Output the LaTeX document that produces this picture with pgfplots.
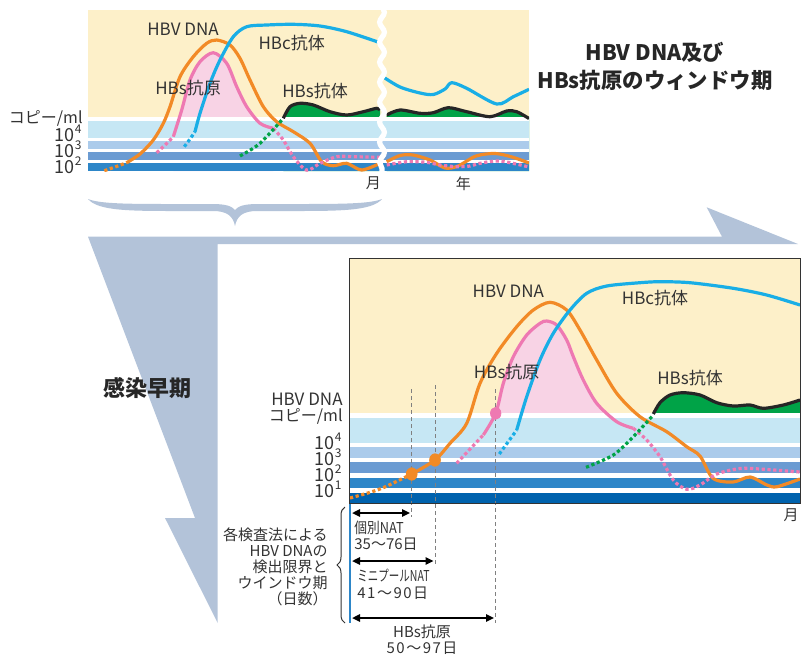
\documentclass[border=0pt]{standalone}
\usepackage{fontspec}
\setmainfont{Noto Sans CJK JP}
\usepackage{graphicx}
\usepackage{pgfplots}
\pgfplotsset{compat=1.18}
\usetikzlibrary{arrows.meta,decorations.pathmorphing,decorations.pathreplacing}

\definecolor{cream}{HTML}{FDF0C9}
\definecolor{bandA}{HTML}{C6E7F4}
\definecolor{bandB}{HTML}{ABCBEB}
\definecolor{bandC}{HTML}{6B9BD2}
\definecolor{bandD}{HTML}{2D86C8}
\definecolor{bandE}{HTML}{0062AD}
\definecolor{dnaorange}{HTML}{F28A26}
\definecolor{hbspink}{HTML}{EE79B2}
\definecolor{pinkfill}{HTML}{F8D3E5}
\definecolor{hbcblue}{HTML}{19AEE6}
\definecolor{abgreen}{HTML}{00A347}
\definecolor{arrowgray}{HTML}{B3C3D9}
\definecolor{txt}{HTML}{333333}

\newcommand\lab{\fontsize{8.5}{10}\selectfont}
\newcommand\sm{\fontsize{7.5}{9}\selectfont}
\newcommand\pw[2]{\node[font=\fontsize{9}{9}\selectfont, text=txt, anchor=east, inner sep=0,
  text height=7pt, text depth=0pt] at (#1) {10\textsuperscript{#2}};}

\pgfplotsset{
  crv/.style={line width=1.6pt, smooth, mark=none, line join=round},
  dtt/.style={crv, dash pattern=on 1.6pt off 1.3pt},
  band/.style={draw=none, fill=#1, mark=none},
  schem/.style={scale only axis, enlargelimits=false, major tick length=0pt, ytick=\empty,
    tick label style={text=txt}, xticklabel style={font=\sm, inner sep=0pt, yshift=-2.5pt}},
}

\begin{document}
\begin{tikzpicture}
% background shapes, pixel units
\begin{scope}[x=0.5pt,y=-0.5pt]
\useasboundingbox (0,0) rectangle (806,655);
\fill[arrowgray] (88,236.7) -- (722,236.7) -- (706.7,207.3) -- (798,244) -- (217.7,244)
  -- (217.7,623) -- (165,518) -- (195,518) -- cycle;
\fill[arrowgray] (88,199) .. controls (98,211) and (130,211) .. (180,211) -- (213,211)
  .. controls (227,211) and (233,216) .. (235,226) .. controls (237,216) and (243,211) .. (257,211)
  -- (290,211) .. controls (340,211) and (372,211) .. (382,199)
  .. controls (370,204) and (340,204) .. (290,204) -- (257,204)
  .. controls (245,204) and (238,206) .. (235,210) .. controls (232,206) and (225,204) .. (213,204)
  -- (180,204) .. controls (130,204) and (100,204) .. (88,199) -- cycle;
\end{scope}

% ---------- top chart ----------
\begin{axis}[schem, at={(44pt,-85.5pt)}, anchor=south west,
  width=220.5pt, height=80.5pt, xmin=0, xmax=441, ymin=0, ymax=161,
  axis line style={draw=none},
  xtick={285.3,375.3}, xticklabels={\mbox{月},\mbox{年}}]
\addplot[band=cream] coordinates {(0,54.3)(441,54.3)(441,161)(0,161)} -- cycle;
\addplot[band=pinkfill, smooth] coordinates {(85.3,34.3)(93.7,61)(102,91)(112,109.3)(125.3,118.3)(138.7,107.7)(148.7,84.3)(158.7,64.3)(172,47.7)(185.3,42.7)} \closedcycle;
\addplot[band=abgreen, smooth] coordinates {(195.3,52.7)(202,64.3)(212,67.7)(225.3,66)(242,59.3)(258.7,56)(275.3,59.3)(288.7,62.7)(292,61)} \closedcycle;
\addplot[band=abgreen, smooth] coordinates {(298.7,56)(312,61)(332,57.7)(345.3,58.3)(360.3,63.3)(378.7,59.3)(402,54.3)(418.7,60)(428.7,59.3)(441,52.5)} \closedcycle;
\addplot[band=white] coordinates {(0,0)(441,0)(441,54.3)(0,54.3)} -- cycle;
\addplot[band=bandA] coordinates {(0,32.7)(441,32.7)(441,50.3)(0,50.3)} -- cycle;
\addplot[band=bandB] coordinates {(0,22)(441,22)(441,30)(0,30)} -- cycle;
\addplot[band=bandC] coordinates {(0,11)(441,11)(441,19.3)(0,19.3)} -- cycle;
\addplot[band=bandD] coordinates {(0,0)(441,0)(441,8.3)(0,8.3)} -- cycle;
% HBV DNA
\addplot[dtt, dnaorange] coordinates {(16.3,0.3)(27,4)(38.7,8.3)};
\addplot[crv, dnaorange] coordinates {(38.7,8.3)(52,17)(65.3,31)(75.3,47.7)(82,64.3)(92,94.3)(105.3,114.3)(118.7,127.7)(128.7,131)(142,126)(152,112.7)(162,91)(175.3,64.3)(188.7,49.3)(205.3,39.3)(222,27.7)(233.7,9.3)(245.3,5.3)(258.7,7.7)(273.7,1)(292,7.7)};
\addplot[crv, dnaorange] coordinates {(298.7,9.3)(312,15.5)(325,16)(342,11)(357,3)(370,5)(388,15)(407,17.5)(424,14)(441,8)};
% HBs antigen
\addplot[dtt, hbspink] coordinates {(68.7,18.3)(77,26)(85.3,34.3)};
\addplot[crv, hbspink] coordinates {(85.3,34.3)(93.7,61)(102,91)(112,109.3)(125.3,118.3)(138.7,107.7)(148.7,84.3)(158.7,64.3)(172,47.7)(185.3,42.7)};
\addplot[dtt, hbspink] coordinates {(185.3,42.7)(195.3,31)(205.3,14.3)(218.7,0.8)(232,7.7)(248.7,14.3)(265.3,14.3)(292,13.7)};
\addplot[dtt, hbspink] coordinates {(298.7,6)(318.7,9.3)(338.7,8.7)(352,6)(368.7,4.3)(382,5)(392,7.7)(412,10)(441,4)};
% HBc antibody
\addplot[dtt, hbcblue] coordinates {(96.3,24.3)(102,32)(107,39.3)};
\addplot[crv, hbcblue] coordinates {(107,39.3)(112,57.7)(122,87.7)(132,111)(145.3,134.3)(158.7,144.3)(178.7,146)(205.3,146.7)(232,145)(258.7,139.3)(292,128.3)};
\addplot[crv, hbcblue] coordinates {(295.3,94)(312,84)(332,78)(345.3,76.5)(357,82)(363.7,88.3)(378.7,82.7)(408.7,67)(425.3,74.3)(441,81.7)};
% HBs antibody
\addplot[dtt, abgreen] coordinates {(152,15)(172,27.7)(195.3,52.7)};
\addplot[crv, black!85] coordinates {(195.3,52.7)(202,64.3)(212,67.7)(225.3,66)(242,59.3)(258.7,56)(275.3,59.3)(288.7,62.7)(292,61)};
\addplot[crv, black!85] coordinates {(298.7,56)(312,61)(332,57.7)(345.3,58.3)(360.3,63.3)(378.7,59.3)(402,54.3)(418.7,60)(428.7,59.3)(441,52.5)};
\end{axis}

% ---------- bottom chart ----------
\begin{axis}[schem, at={(174.5pt,-251.5pt)}, anchor=south west,
  width=225.5pt, height=122.5pt, xmin=0, xmax=451, ymin=0, ymax=245,
  clip=false, axis on top, axis line style={draw=txt, line width=0.5pt},
  xtick={442}, xticklabels={\mbox{月}}]
\addplot[band=cream] coordinates {(0,90.3)(451,90.3)(451,245)(0,245)} -- cycle;
\addplot[band=pinkfill, smooth] coordinates {(134.3,68)(146.7,89.7)(154.3,119.7)(164.3,146.3)(177.7,168)(191,179.7)(197.7,182)(207.7,178)(217.7,163)(224.3,146.3)(234.3,123)(247.7,99.7)(267.7,81.3)(284.3,74.7)} \closedcycle;
\addplot[band=abgreen, smooth] coordinates {(304.3,89)(311,100.3)(321,108)(334.3,110.3)(351,108)(367.7,100.3)(384.3,97)(401,98)(414.3,94.7)(434.3,98)(451,103)} \closedcycle;
\addplot[band=white] coordinates {(0,0)(451,0)(451,90.3)(0,90.3)} -- cycle;
\addplot[band=bandA] coordinates {(0,60.3)(451,60.3)(451,85.3)(0,85.3)} -- cycle;
\addplot[band=bandB] coordinates {(0,45)(451,45)(451,56.3)(0,56.3)} -- cycle;
\addplot[band=bandC] coordinates {(0,30.3)(451,30.3)(451,41)(0,41)} -- cycle;
\addplot[band=bandD] coordinates {(0,14.7)(451,14.7)(451,25.3)(0,25.3)} -- cycle;
\addplot[band=bandE] coordinates {(0,0)(451,0)(451,10.3)(0,10.3)} -- cycle;
% detection limits
\addplot[gray, line width=0.5pt, dash pattern=on 2pt off 1.5pt] coordinates {(62.7,114)(62.7,-14)};
\addplot[gray, line width=0.5pt, dash pattern=on 2pt off 1.5pt] coordinates {(86,118)(86,-64)};
\addplot[gray, line width=0.5pt, dash pattern=on 2pt off 1.5pt] coordinates {(146.7,114)(146.7,-120)};
% HBV DNA
\addplot[dtt, dnaorange] coordinates {(1,5)(31,14)(62.7,29)};
\addplot[crv, dnaorange] coordinates {(62.7,29)(86,43)(101,59.7)(117.7,79.7)(131,119.7)(147.7,149.7)(167.7,176.3)(184.3,193)(201,200.7)(217.7,193)(231,173)(247.7,143)(267.7,109.7)(291,86.3)(317.7,71.3)(337.7,56.3)(351,47)(364,24.7)(384,21)(401,26)(418,18)(428,16.3)(451,24)};
% HBs antigen
\addplot[dtt, hbspink] coordinates {(107.7,39.7)(121,54)(134.3,68)};
\addplot[crv, hbspink] coordinates {(134.3,68)(146.7,89.7)(154.3,119.7)(164.3,146.3)(177.7,168)(191,179.7)(197.7,182)(207.7,178)(217.7,163)(224.3,146.3)(234.3,123)(247.7,99.7)(267.7,81.3)(284.3,74.7)};
\addplot[dtt, hbspink] coordinates {(284.3,74.7)(297.7,63)(311,46.3)(324.3,23)(337.7,13.7)(351,18)(367.7,29)(391,34.5)(411,34)(451,31)};
% HBc antibody
\addplot[dtt, hbcblue] coordinates {(150.3,49)(159,61)(167.7,73)};
\addplot[crv, hbcblue] coordinates {(167.7,73)(177.7,106.3)(191,143)(204.3,169.7)(221,193)(237.7,209.7)(257.7,217)(291,220.3)(311,221.3)(341,220.3)(384.3,214.7)(417.7,208)(451,198)};
% HBs antibody
\addplot[dtt, abgreen] coordinates {(237,35.7)(264.3,48)(284.3,66.3)(304.3,88)};
\addplot[crv, black!85] coordinates {(304.3,89)(311,100.3)(321,108)(334.3,110.3)(351,108)(367.7,100.3)(384.3,97)(401,98)(414.3,94.7)(434.3,98)(451,103)};
% detection points
\addplot[dnaorange, only marks, mark=*, mark size=2.7pt, mark options={fill=dnaorange, draw=dnaorange, yscale=1.15}] coordinates {(62.7,29)(86,43)};
\addplot[hbspink, only marks, mark=*, mark size=2.6pt, mark options={fill=hbspink, draw=hbspink, yscale=1.15}] coordinates {(146.7,89.7)};
% window periods
\addplot[line width=1pt, arrows={Triangle[length=4pt,width=3.6pt]-Triangle[length=4pt,width=3.6pt]}] coordinates {(3,-10)(61,-10)};
\addplot[line width=1pt, arrows={Triangle[length=4pt,width=3.6pt]-Triangle[length=4pt,width=3.6pt]}] coordinates {(3,-58)(84.5,-58)};
\addplot[line width=1pt, arrows={Triangle[length=4pt,width=3.6pt]-Triangle[length=4pt,width=3.6pt]}] coordinates {(3,-115)(145,-115)};
\addplot[bandD, line width=1pt] coordinates {(1,0)(1,-120)};
\end{axis}

% ---------- texts and break ----------
\begin{scope}[x=0.5pt,y=-0.5pt]
\draw[white, line width=2.6pt, decorate, decoration={snake, segment length=10pt, amplitude=1.2pt}] (382,6) -- (382,175);
\node[font=\lab, text=txt] at (183,29.3) {HBV DNA};
\node[font=\lab, text=txt] at (291.7,43.3) {HBc抗体};
\node[font=\lab, text=txt] at (188,88.3) {HBs抗原};
\node[font=\lab, text=txt] at (315,90.7) {HBs抗体};
\node[font=\fontsize{8}{9}\selectfont, text=txt, anchor=east, inner sep=0] at (83,118) {コピー/ml};
\pw{83,134}{4} \pw{83,150}{3} \pw{83,166}{2}

\node[font=\bfseries\fontsize{10.7}{14}\selectfont, text=black!85, align=center] at (655,66) {HBV DNA及び\\HBs抗原のウィンドウ期};
\node[font=\bfseries\fontsize{11}{12}\selectfont, text=black!85] at (147,388) {感染早期};

\node[font=\lab, text=txt] at (508.3,291.7) {HBV DNA};
\node[font=\lab, text=txt] at (655,297.7) {HBc抗体};
\node[font=\lab, text=txt] at (506.7,371.7) {HBs抗原};
\node[font=\lab, text=txt] at (690,378.3) {HBs抗体};
\node[font=\lab, text=txt, anchor=east, inner sep=0] at (343,399) {HBV DNA};
\node[font=\fontsize{8}{9}\selectfont, text=txt, anchor=east, inner sep=0] at (343,416) {コピー/ml};
\pw{343,442}{4} \pw{343,458}{3} \pw{343,474}{2} \pw{343,490}{1}

\node[font=\fontsize{7.5}{8}\selectfont, text=txt, anchor=east, align=right, inner sep=0] at (328,567)
  {各検査法による\\HBV DNAの\\検出限界と\\ウインドウ期\\（日数）};
\draw[txt, line width=0.5pt, decorate, decoration={brace, amplitude=4pt}] (345,623) -- (345,507);

\node[font=\sm, text=txt, anchor=west, inner sep=0] at (354,528) {\scalebox{0.85}[1]{個別NAT}};
\node[font=\sm, text=txt, anchor=west, inner sep=0] at (354,544) {35～76日};
\node[font=\sm, text=txt, anchor=west, inner sep=0] at (357,576) {\scalebox{0.7}[1]{ミニプールNAT}};
\node[font=\sm, text=txt, anchor=west, inner sep=0] at (357,593) {\addfontfeature{LetterSpace=10}41～90日};
\node[font=\sm, text=txt, inner sep=0] at (422,632) {HBs抗原};
\node[font=\sm, text=txt, inner sep=0] at (422,648) {\addfontfeature{LetterSpace=10}50～97日};
\end{scope}
\end{tikzpicture}
\end{document}
